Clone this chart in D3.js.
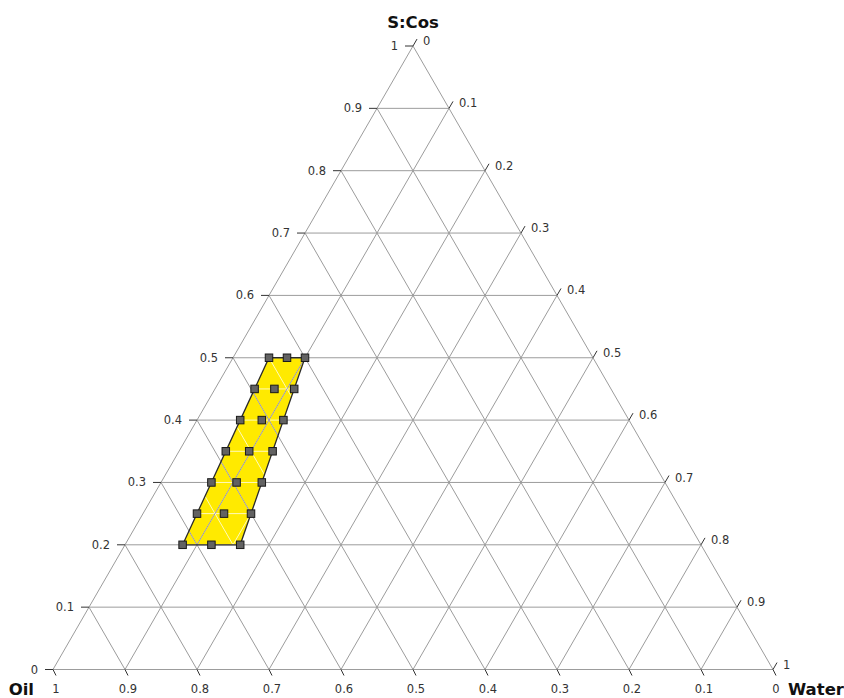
<!DOCTYPE html>
<html><head><meta charset="utf-8">
<script src="https://cdn.jsdelivr.net/npm/d3@7"></script>
<style>html,body{margin:0;padding:0;background:#fff}svg{display:block}</style>
</head><body>
<svg id="chart" width="844" height="698"></svg>
<script>
// ---- data ----
const axisTitles = ["S:Cos", "Oil", "Water"];
const tickValues = [0, 0.1, 0.2, 0.3, 0.4, 0.5, 0.6, 0.7, 0.8, 0.9, 1];
const gridValues = [0.1, 0.2, 0.3, 0.4, 0.5, 0.6, 0.7, 0.8, 0.9];
const fineGridValues = [0.05, 0.1, 0.15, 0.2, 0.25, 0.3, 0.35, 0.4, 0.45, 0.5, 0.55, 0.6, 0.65, 0.7, 0.75, 0.8, 0.85, 0.9, 0.95];
// design region corners (S:Cos, Oil, Water)
const regionSCos  = [0.5, 0.5, 0.2, 0.2];
const regionOil   = [0.45, 0.40, 0.64, 0.72];
const regionWater = [0.05, 0.10, 0.16, 0.08];
// design points (S:Cos, Oil, Water)
const pointSCos  = [0.5,0.5,0.5, 0.45,0.45,0.45, 0.4,0.4,0.4, 0.35,0.35,0.35, 0.3,0.3,0.3, 0.25,0.25,0.25, 0.2,0.2,0.2];
const pointOil   = [0.45,0.425,0.40, 0.495,0.4675,0.44, 0.54,0.51,0.48, 0.585,0.5525,0.52, 0.63,0.595,0.56, 0.675,0.6375,0.60, 0.72,0.68,0.64];
const pointWater = [0.05,0.075,0.10, 0.055,0.0825,0.11, 0.06,0.09,0.12, 0.065,0.0975,0.13, 0.07,0.105,0.14, 0.075,0.1125,0.15, 0.08,0.12,0.16];

// ---- scales ----
const svg = d3.select("#chart");
const xScale = d3.scaleLinear().domain([0, 1]).range([53, 773]);
const yScale = d3.scaleLinear().domain([0, 1]).range([669.5, 46]);
// position from (S:Cos, Water) ; Oil = 1 - S - W
const px = (s, w) => xScale(w + s / 2);
const py = (s) => yScale(s);
const pt = (s, w) => [px(s, w), py(s)];

const gridColor = "#9c9c9c";
const labelColor = "#333";
const tickFont = "DejaVu Sans, Verdana, sans-serif";

// ---- grid ----
const gridG = svg.append("g");
function gridLines(g, values, color, width, opacity, dirs) {
  values.forEach(v => {
    if (dirs.includes("s")) // S:Cos = v (horizontal)
      g.append("line").attr("x1", px(v, 0)).attr("y1", py(v)).attr("x2", px(v, 1 - v)).attr("y2", py(v))
        .attr("stroke", color).attr("stroke-width", width).attr("opacity", opacity);
    if (dirs.includes("w")) // Water = v
      g.append("line").attr("x1", px(0, v)).attr("y1", py(0)).attr("x2", px(1 - v, v)).attr("y2", py(1 - v))
        .attr("stroke", color).attr("stroke-width", width).attr("opacity", opacity);
    if (dirs.includes("o")) // Oil = v
      g.append("line").attr("x1", px(0, 1 - v)).attr("y1", py(0)).attr("x2", px(1 - v, 0)).attr("y2", py(1 - v))
        .attr("stroke", color).attr("stroke-width", width).attr("opacity", opacity);
  });
}
gridLines(gridG, gridValues, gridColor, 1, 1, "swo");
// triangle outline
gridG.append("path")
  .attr("d", d3.line()([pt(0, 0), pt(0, 1), pt(1, 0)]) + "Z")
  .attr("fill", "none").attr("stroke", gridColor).attr("stroke-width", 1);

// ---- design region ----
const regionPts = regionSCos.map((s, i) => pt(s, regionWater[i]));
const defs = svg.append("defs");
defs.append("clipPath").attr("id", "regionClip")
  .append("path").attr("d", d3.line()(regionPts) + "Z");
svg.append("path").attr("d", d3.line()(regionPts) + "Z")
  .attr("fill", "#ffea00").attr("stroke", "none");
const fineG = svg.append("g").attr("clip-path", "url(#regionClip)");
gridLines(fineG, fineGridValues, "#ffffff", 1, 0.75, "swo");
const overG = svg.append("g").attr("clip-path", "url(#regionClip)");
gridLines(overG, gridValues, "#8a86a8", 1, 0.85, "wo");
svg.append("path").attr("d", d3.line()(regionPts) + "Z")
  .attr("fill", "none").attr("stroke", "#2a2a2a").attr("stroke-width", 1.3);

// ---- points ----
const sz = 7.5;
svg.append("g").selectAll("rect").data(pointSCos.map((s, i) => pt(s, pointWater[i])))
  .join("rect")
  .attr("x", d => d[0] - sz / 2).attr("y", d => d[1] - sz / 2)
  .attr("width", sz).attr("height", sz)
  .attr("fill", "#626262").attr("stroke", "#1a1a1a").attr("stroke-width", 1);

// ---- ticks & labels ----
const tickG = svg.append("g");
const tl = 8, c60 = Math.cos(Math.PI / 3), s60 = Math.sin(Math.PI / 3);
const fmt = v => (v === 0 || v === 1) ? String(v) : d3.format(".1f")(v);
tickValues.forEach(v => {
  // left axis: S:Cos
  let [x, y] = pt(v, 0);
  tickG.append("line").attr("x1", x).attr("y1", y).attr("x2", x - tl).attr("y2", y).attr("stroke", "#333");
  tickG.append("text").attr("x", x - 15).attr("y", y + 4).attr("text-anchor", "end")
    .attr("font-family", tickFont).attr("font-size", 11.5).attr("fill", labelColor).text(fmt(v));
  // right axis: Water
  [x, y] = pt(1 - v, v);
  const ex = x + tl * c60, ey = y - tl * s60;
  tickG.append("line").attr("x1", x).attr("y1", y).attr("x2", ex).attr("y2", ey).attr("stroke", "#333");
  tickG.append("text").attr("x", ex + 6).attr("y", ey + 6).attr("text-anchor", "start")
    .attr("font-family", tickFont).attr("font-size", 11.5).attr("fill", labelColor).text(fmt(v));
  // bottom axis: Oil  (oil = v  => water = 1 - v)
  [x, y] = pt(0, 1 - v);
  const bx = x + tl * 0.5 * c60, by = y + tl * s60;
  tickG.append("line").attr("x1", x).attr("y1", y).attr("x2", x + 3).attr("y2", y + 6).attr("stroke", "#333");
  tickG.append("text").attr("x", bx + 1).attr("y", by + 17).attr("text-anchor", "middle")
    .attr("font-family", tickFont).attr("font-size", 11.5).attr("fill", labelColor).text(fmt(v));
});

// ---- axis titles ----
const titleFont = "DejaVu Sans, Verdana, sans-serif";
svg.append("text").attr("x", px(1, 0)).attr("y", 28).attr("text-anchor", "middle")
  .attr("font-family", titleFont).attr("font-weight", "bold").attr("font-size", 16.5).attr("fill", "#111").text(axisTitles[0]);
svg.append("text").attr("x", px(0, 0) - 19).attr("y", 695).attr("text-anchor", "end")
  .attr("font-family", titleFont).attr("font-weight", "bold").attr("font-size", 16.5).attr("fill", "#111").text(axisTitles[1]);
svg.append("text").attr("x", px(0, 1) + 15).attr("y", 695).attr("text-anchor", "start")
  .attr("font-family", titleFont).attr("font-weight", "bold").attr("font-size", 16.5).attr("fill", "#111").text(axisTitles[2]);
</script>
</body></html>
